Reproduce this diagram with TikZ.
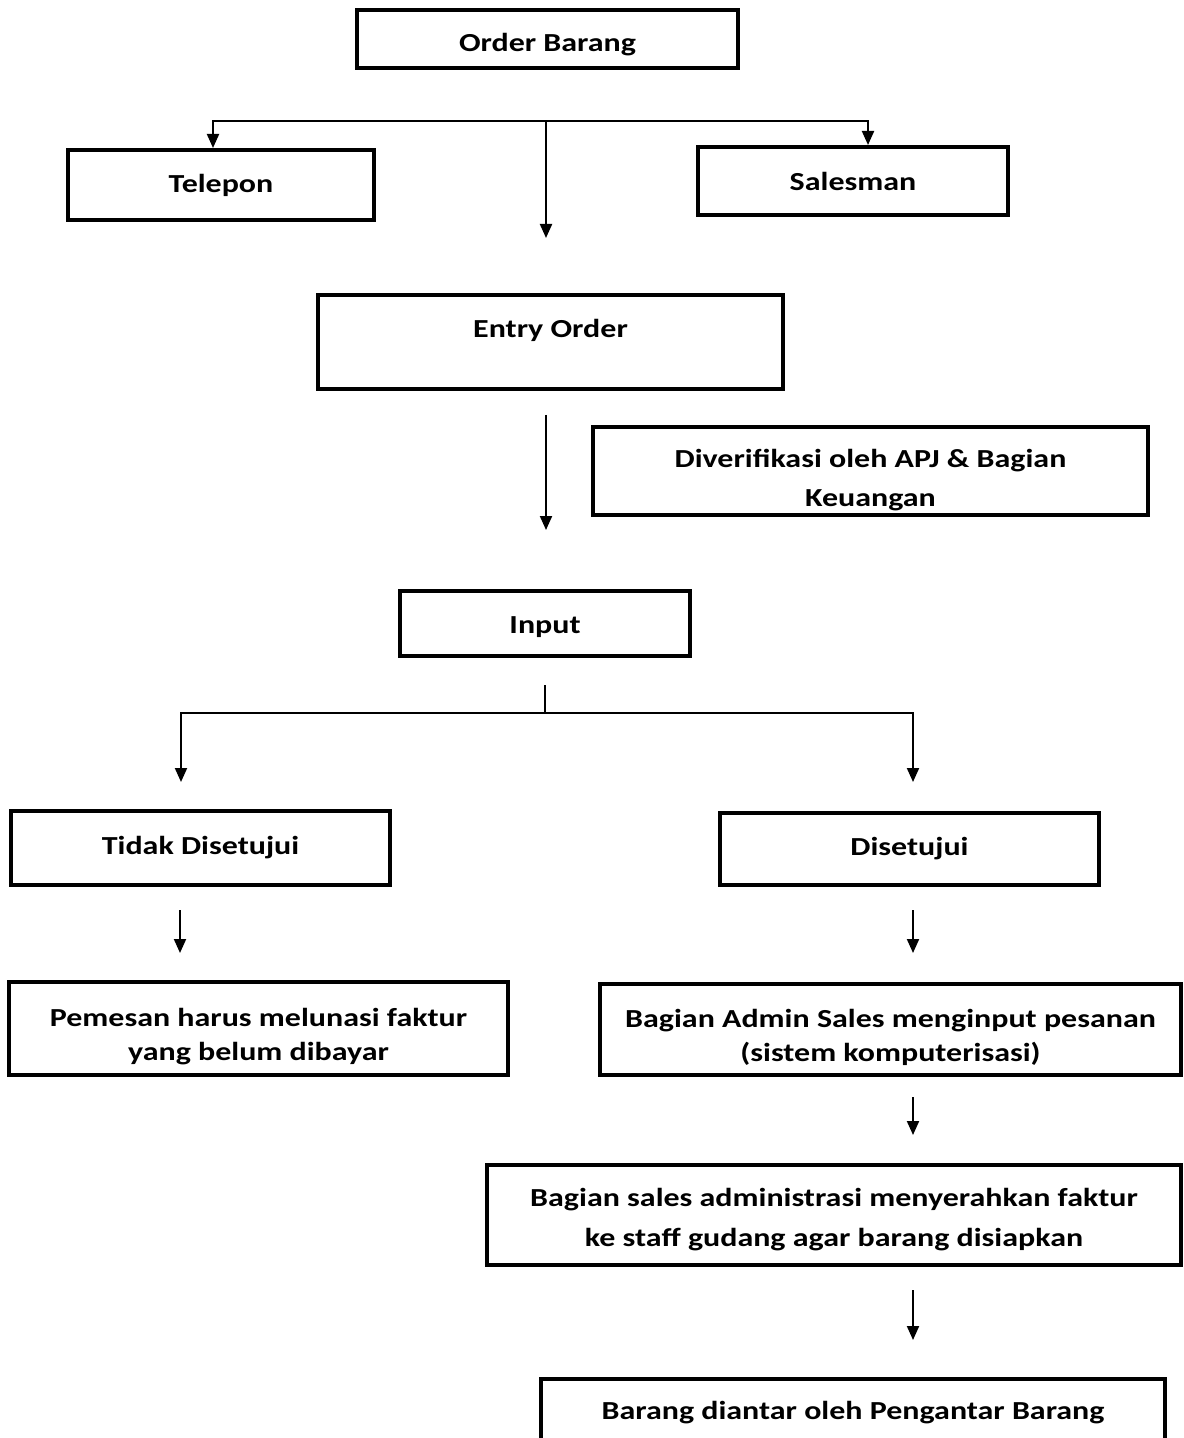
\documentclass[tikz,border=0pt]{standalone}
\usepackage{fontspec}
\setmainfont{Carlito}[FakeStretch=1.23]
\usetikzlibrary{arrows.meta,positioning,calc}
\newcommand\lowr[1]{\rule{0pt}{\dimexpr\fontcharht\font`d+#1\relax}}
\begin{document}
\begin{tikzpicture}[x=0.5pt,y=-0.5pt,box/.style={draw,line width=2pt,align=center,inner sep=0pt,font=\fontsize{13}{17}\selectfont\bfseries},a/.style={-{Triangle[width=6pt,length=7pt]},line width=1pt}]
\useasboundingbox (0,0) rectangle (1183,1438);
\node[box,minimum width=190.5pt,minimum height=29pt] (ob) at (547.5,39) {\lowr{6pt}Order Barang};
\node[box,minimum width=153pt,minimum height=35pt] (tel) at (221,185) {Telepon};
\node[box,minimum width=155pt,minimum height=34pt] (sal) at (853,181) {Salesman};
\node[box,minimum width=232.5pt,minimum height=47pt,text depth=14pt] (eo) at (550.5,342) {Entry Order};
\node[box,minimum width=277.5pt,minimum height=44pt] (ver) at (870.5,471) {\lowr{9pt}Diverifikasi oleh APJ \& Bagian\\[2.5pt]Keuangan};
\node[box,minimum width=145pt,minimum height=32.5pt] (inp) at (545,623.5) {\lowr{3pt}Input};
\node[box,minimum width=189.5pt,minimum height=37pt] (tds) at (200.5,848) {Tidak Disetujui};
\node[box,minimum width=189.5pt,minimum height=36pt] (ds) at (909.5,849) {Disetujui};
\node[box,minimum width=249.5pt,minimum height=46.5pt] (pem) at (258.5,1028.5) {\lowr{8pt}Pemesan harus melunasi faktur\\yang belum dibayar};
\node[box,minimum width=290.5pt,minimum height=45.5pt] (adm) at (890.5,1029.5) {\lowr{8pt}Bagian Admin Sales menginput pesanan\\(sistem komputerisasi)};
\node[box,minimum width=347pt,minimum height=50pt] (sad) at (834,1215) {\lowr{5pt}Bagian sales administrasi menyerahkan faktur\\[3pt]ke staff gudang agar barang disiapkan};
\node[box,minimum width=312pt,minimum height=31pt] (ant) at (853,1410) {\lowr{3pt}Barang diantar oleh Pengantar Barang};
% cabang order
\coordinate (t1) at (213,121);
\coordinate (t2) at (868,121);
\coordinate (tm) at (546,121);
\coordinate (tm2) at (546,238);
\draw[a] (tm) -| (t1 |- tel.north);
\draw[a] (tm) -| (t2 |- sal.north);
\draw[a] (tm) -- (tm2);
% verifikasi
\coordinate (e1) at (546,415);
\coordinate (e2) at (546,530);
\draw[a] (e1) -- (e2);
% cabang input
\coordinate (i0) at (545,685);
\coordinate (i1) at (545,713);
\coordinate (l1) at (181,782);
\coordinate (r1) at (913,782);
\draw[line width=1pt] (i0) -- (i1);
\draw[a] (i1) -| (l1);
\draw[a] (i1) -| (r1);
% langkah lanjut
\coordinate (l2) at (180,910);
\coordinate (l3) at (180,953);
\coordinate (r2) at (913,910);
\coordinate (r3) at (913,953);
\coordinate (r4) at (913,1097);
\coordinate (r5) at (913,1135);
\coordinate (r6) at (913,1290);
\coordinate (r7) at (913,1340);
\draw[a] (l2) -- (l3);
\draw[a] (r2) -- (r3);
\draw[a] (r4) -- (r5);
\draw[a] (r6) -- (r7);
\end{tikzpicture}
\end{document}
